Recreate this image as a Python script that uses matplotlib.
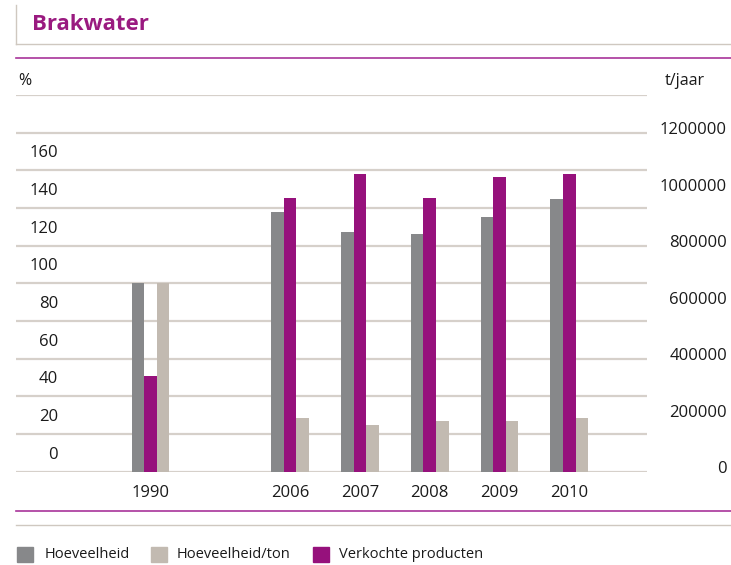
import numpy as np
import matplotlib
matplotlib.use("Agg")
import matplotlib.pyplot as plt
from matplotlib.lines import Line2D
from matplotlib.patches import Rectangle
from matplotlib.ticker import FixedLocator, FuncFormatter
from matplotlib.transforms import ScaledTranslation

# ---- data ----
years = ['1990', '2006', '2007', '2008', '2009', '2010']
hoeveelheid = [100, 138, 127.5, 126, 135, 145]            # %
hoeveelheid_ton = [100, 28.5, 24.5, 27, 27, 28.5]         # %
verkochte = [338000, 968000, 1052000, 968000, 1042000, 1052000]  # t/jaar
legend_labels = ['Hoeveelheid', 'Hoeveelheid/ton', 'Verkochte producten']
left_ticks = list(range(0, 201, 20))
right_ticks = list(range(0, 1200001, 200000))

# ---- style ----
GRAY = '#87888a'
TAN = '#c2bab1'
PURPLE = '#96117c'
GRID = '#d6d0ca'
LINE_PURPLE = '#a8339a'
TXT = '#1a1a1a'
FONT = 'Open Sans'
plt.rcParams['font.family'] = [FONT, 'DejaVu Sans']

W, H = 731, 565
fig = plt.figure(figsize=(W / 100, H / 100), dpi=100)

def fx(px):
    return px / W

def fy(py):
    return 1 - py / H

ax_left, ax_right, ax_top, ax_bottom = 16, 647, 95, 471.6
ax = fig.add_axes([fx(ax_left), fy(ax_bottom), fx(ax_right - ax_left), (ax_bottom - ax_top) / H])
ax2 = ax.twinx()

idx = np.arange(len(years))
x = idx + (idx > 0)  # gap between 1990 and 2006
w = 0.18

ax.bar(x - w, hoeveelheid, w, color=GRAY, zorder=3, linewidth=0)
ax.bar(x + w, hoeveelheid_ton, w, color=TAN, zorder=3, linewidth=0)
ax2.bar(x, verkochte, w, color=PURPLE, zorder=3, linewidth=0)

ax.set_xlim(-1.927, 7.113)
ax.set_ylim(0, 200)
ax2.set_ylim(0, 1200000 * 200 / 180)

ax.set_xticks(x)
ax.set_xticklabels(years)
ax.tick_params(axis='x', length=0, pad=10, labelsize=12, labelcolor=TXT)

ax.yaxis.set_major_locator(FixedLocator(left_ticks))
ax.yaxis.set_major_formatter(FuncFormatter(lambda v, p: f'{int(v)}' if v <= 160 else ''))
ax.tick_params(axis='y', length=0, pad=-30.2, labelsize=12, labelcolor=TXT)
ax.grid(axis='y', color=GRID, linewidth=1.6, zorder=0)
ax.set_axisbelow(True)

ax2.yaxis.set_major_locator(FixedLocator(right_ticks))
ax2.yaxis.set_major_formatter(FuncFormatter(lambda v, p: f'{int(v)}'))
ax2.tick_params(axis='y', length=0, pad=57.6, labelsize=12, labelcolor=TXT)

for a in (ax, ax2):
    for s in a.spines.values():
        s.set_visible(False)

fig.canvas.draw()
off_left = ScaledTranslation(0, 18.85 / 100, fig.dpi_scale_trans)
for lbl in ax.get_yticklabels():
    lbl.set_transform(lbl.get_transform() + off_left)
off_right = ScaledTranslation(0, 4.5 / 100, fig.dpi_scale_trans)
for lbl in ax2.get_yticklabels():
    lbl.set_horizontalalignment('right')
    lbl.set_transform(lbl.get_transform() + off_right)

# ---- frame lines ----
def hline(py, x0, x1, color, lw):
    fig.add_artist(Line2D([fx(x0), fx(x1)], [fy(py), fy(py)], color=color, linewidth=lw,
                          transform=fig.transFigure))

fig.add_artist(Line2D([fx(16), fx(16)], [fy(5), fy(44)], color='#cfc8c0', linewidth=1.0,
                      transform=fig.transFigure))
hline(44, 16, 731, '#cfc8c0', 1.0)
hline(58, 16, 731, LINE_PURPLE, 1.2)
hline(511, 16, 731, LINE_PURPLE, 1.2)
hline(525, 16, 731, '#cfc8c0', 1.0)

# ---- texts ----
fig.text(fx(32), fy(25), 'Brakwater', color='#9a1a80', fontsize=16, fontweight='bold',
         va='center', ha='left')
fig.text(fx(18), fy(81), '%', fontsize=11.5, va='center', ha='left', color=TXT)
fig.text(fx(665), fy(81), 't/jaar', fontsize=11.5, va='center', ha='left', color=TXT)

# ---- legend ----
colors = [GRAY, TAN, PURPLE]
sq_x = [17, 151, 313]
tx_x = [45, 177, 339]
for c, sx, tx, lab in zip(colors, sq_x, tx_x, legend_labels):
    fig.add_artist(Rectangle((fx(sx), fy(562)), 16 / W, 15 / H, color=c, transform=fig.transFigure))
    fig.text(fx(tx), fy(555), lab, fontsize=10.5, va='center', ha='left', color=TXT)

fig.savefig('out.png', dpi=100)
